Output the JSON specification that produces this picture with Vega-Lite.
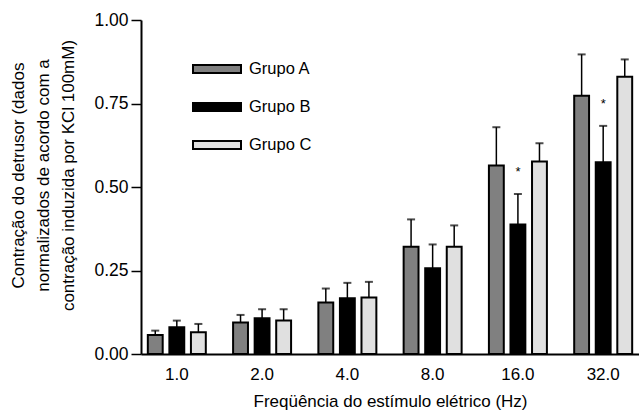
{
  "$schema": "https://vega.github.io/schema/vega-lite/v6.json",
  "width": 498,
  "height": 334,
  "autosize": "none",
  "padding": {"left": 141, "top": 20, "right": 0, "bottom": 65},
  "background": "white",
  "config": {
    "view": {"stroke": null},
    "font": "Liberation Sans",
    "axis": {"labelFont": "Liberation Sans", "titleFont": "Liberation Sans", "labelColor": "black", "titleColor": "black", "domainColor": "black", "tickColor": "black", "grid": false, "titleFontWeight": "normal"},
    "legend": {"labelFont": "Liberation Sans"}
  },
  "data": {
    "values": [
      {"freq": "1.0", "grupo": "Grupo A", "mean": 0.057, "hi": 0.070, "sig": ""},
      {"freq": "1.0", "grupo": "Grupo B", "mean": 0.080, "hi": 0.100, "sig": ""},
      {"freq": "1.0", "grupo": "Grupo C", "mean": 0.065, "hi": 0.090, "sig": ""},
      {"freq": "2.0", "grupo": "Grupo A", "mean": 0.094, "hi": 0.117, "sig": ""},
      {"freq": "2.0", "grupo": "Grupo B", "mean": 0.107, "hi": 0.134, "sig": ""},
      {"freq": "2.0", "grupo": "Grupo C", "mean": 0.100, "hi": 0.134, "sig": ""},
      {"freq": "4.0", "grupo": "Grupo A", "mean": 0.154, "hi": 0.196, "sig": ""},
      {"freq": "4.0", "grupo": "Grupo B", "mean": 0.167, "hi": 0.213, "sig": ""},
      {"freq": "4.0", "grupo": "Grupo C", "mean": 0.169, "hi": 0.216, "sig": ""},
      {"freq": "8.0", "grupo": "Grupo A", "mean": 0.321, "hi": 0.403, "sig": ""},
      {"freq": "8.0", "grupo": "Grupo B", "mean": 0.257, "hi": 0.328, "sig": ""},
      {"freq": "8.0", "grupo": "Grupo C", "mean": 0.321, "hi": 0.385, "sig": ""},
      {"freq": "16.0", "grupo": "Grupo A", "mean": 0.564, "hi": 0.679, "sig": ""},
      {"freq": "16.0", "grupo": "Grupo B", "mean": 0.388, "hi": 0.479, "sig": "*"},
      {"freq": "16.0", "grupo": "Grupo C", "mean": 0.576, "hi": 0.631, "sig": ""},
      {"freq": "32.0", "grupo": "Grupo A", "mean": 0.773, "hi": 0.897, "sig": ""},
      {"freq": "32.0", "grupo": "Grupo B", "mean": 0.574, "hi": 0.683, "sig": "*"},
      {"freq": "32.0", "grupo": "Grupo C", "mean": 0.830, "hi": 0.882, "sig": ""}
    ]
  },
  "encoding": {
    "x": {
      "field": "freq", "type": "nominal", "sort": null,
      "scale": {"paddingInner": 0.32, "paddingOuter": 0.08},
      "axis": {"title": "Freqüência do estímulo elétrico (Hz)", "labelAngle": 0, "ticks": false, "domainWidth": 2, "labelFontSize": 17, "labelPadding": 12, "titleFontSize": 17, "titlePadding": 11}
    },
    "xOffset": {"field": "grupo", "type": "nominal", "scale": {"paddingInner": 0.31, "paddingOuter": 0}}
  },
  "layer": [
    {
      "mark": {"type": "rule", "color": "black", "strokeWidth": 1.5},
      "encoding": {
        "y": {"field": "mean", "type": "quantitative"},
        "y2": {"field": "hi"}
      }
    },
    {
      "mark": {"type": "tick", "color": "black", "thickness": 2, "size": 8, "orient": "horizontal"},
      "encoding": {
        "y": {"field": "hi", "type": "quantitative"}
      }
    },
    {
      "mark": {"type": "bar", "stroke": "black", "strokeWidth": 2, "opacity": 1},
      "encoding": {
        "y": {
          "field": "mean", "type": "quantitative",
          "scale": {"domain": [0, 1], "nice": false},
          "axis": {
            "values": [0, 0.25, 0.5, 0.75, 1],
            "format": ".2f",
            "title": ["Contração do detrusor (dados", "normalizados de acordo com a", "contração induzida por KCl 100mM)"],
            "titleFontSize": 17, "titleLineHeight": 25, "titlePadding": 16, "titleY": 155,
            "labelFontSize": 17.5, "labelPadding": 3, "tickSize": 10, "tickWidth": 1.5, "domainWidth": 2
          }
        },
        "color": {
          "field": "grupo", "type": "nominal",
          "scale": {"domain": ["Grupo A", "Grupo B", "Grupo C"], "range": ["#808080", "#000000", "#e0e0e0"]},
          "legend": {
            "title": null, "orient": "none", "legendX": 51, "legendY": 24,
            "symbolType": "M-1,-0.17L1,-0.17L1,0.17L-1,0.17Z", "symbolSize": 2304,
            "symbolStrokeColor": "black", "symbolStrokeWidth": 2, "symbolOpacity": 1,
            "labelFontSize": 16.5, "labelOffset": 7, "rowPadding": 4
          }
        }
      }
    },
    {
      "mark": {"type": "text", "fontSize": 13, "dy": -18, "baseline": "alphabetic", "color": "black"},
      "encoding": {
        "y": {"field": "hi", "type": "quantitative"},
        "text": {"field": "sig"}
      }
    }
  ]
}
